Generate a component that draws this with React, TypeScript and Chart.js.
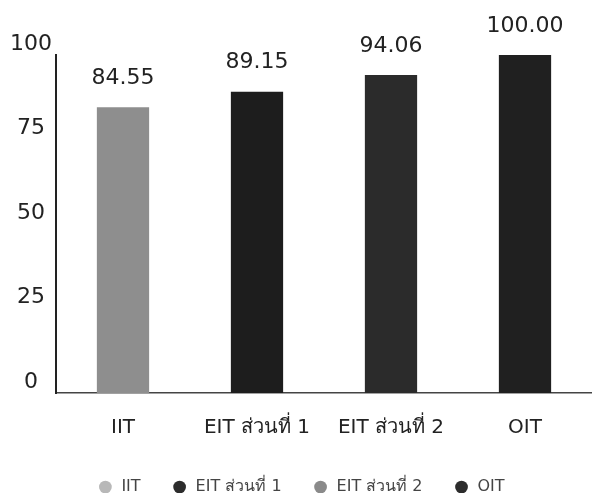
import React, { useEffect, useRef } from "react";
import { Chart, registerables } from "chart.js";

Chart.register(...registerables);

const categories = ["IIT", "EIT ส่วนที่ 1", "EIT ส่วนที่ 2", "OIT"];
const scores = [84.55, 89.15, 94.06, 100.0];
const valueLabels = ["84.55", "89.15", "94.06", "100.00"];
const barColors = ["#8e8e8e", "#1d1d1d", "#2b2b2b", "#202020"];
const legendColors = ["#b8b8b8", "#2c2c2c", "#8a8a8a", "#2c2c2c"];
const yTicks = [0, 25, 50, 75, 100];

const FONT = "'DejaVu Sans', 'Noto Sans', sans-serif";
const LEGEND_PAD = 31;

const valueLabelPlugin = {
  id: "valueLabels",
  afterDatasetsDraw(chart: any) {
    const ctx = chart.ctx;
    const meta = chart.getDatasetMeta(0);
    ctx.save();
    ctx.font = `22px ${FONT}`;
    ctx.fillStyle = "#222";
    ctx.textAlign = "center";
    ctx.textBaseline = "middle";
    meta.data.forEach((bar: any, i: number) => {
      ctx.fillText(valueLabels[i], bar.x, bar.y - 29);
    });
    ctx.restore();
  },
};

export default function App() {
  const ref = useRef<HTMLCanvasElement | null>(null);

  useEffect(() => {
    document.body.style.margin = "0";
    if (!ref.current) return;
    const chart = new Chart(ref.current, {
      type: "bar",
      data: {
        labels: categories,
        datasets: [
          {
            data: scores,
            backgroundColor: barColors,
            borderWidth: 0,
            barPercentage: 0.39,
            categoryPercentage: 1,
          },
        ],
      },
      options: {
        animation: false,
        responsive: true,
        maintainAspectRatio: false,
        layout: { padding: { top: 55, left: 6, right: -4, bottom: -12 } },
        scales: {
          x: {
            grid: { display: false, drawTicks: false },
            border: { display: true, color: "#444", width: 1.5 },
            ticks: {
              color: "#222",
              font: { family: FONT, size: 20 },
              padding: 23,
            },
            afterFit: (axis: any) => {
              axis.height = 55;
            },
          },
          y: {
            min: 0,
            max: 100,
            grid: { display: false, drawTicks: false },
            border: { display: true, color: "#222", width: 2 },
            afterBuildTicks: (axis: any) => {
              axis.ticks = yTicks.map((v) => ({ value: v }));
            },
            ticks: {
              color: "#222",
              font: { family: FONT, size: 22 },
              padding: 4,
              crossAlign: "center",
              labelOffset: -11,
            },
          },
        },
        plugins: {
          tooltip: { enabled: false },
          legend: {
            display: true,
            position: "bottom",
            labels: {
              usePointStyle: true,
              pointStyle: "circle",
              boxWidth: 16,
              boxHeight: 9,
              padding: LEGEND_PAD,
              color: "#444",
              font: { family: FONT, size: 16 },
              generateLabels: () =>
                categories.map((c, i) => ({
                  text: c,
                  fillStyle: legendColors[i],
                  strokeStyle: legendColors[i],
                  fontColor: "#444",
                  lineWidth: 0,
                  pointStyle: "circle",
                  hidden: false,
                  index: i,
                  datasetIndex: 0,
                })),
            },
          },
        },
      },
      plugins: [valueLabelPlugin],
    });
    return () => chart.destroy();
  }, []);

  return (
    <div style={{ width: 592, height: 493, position: "relative", background: "#fff" }}>
      <canvas ref={ref} />
    </div>
  );
}
